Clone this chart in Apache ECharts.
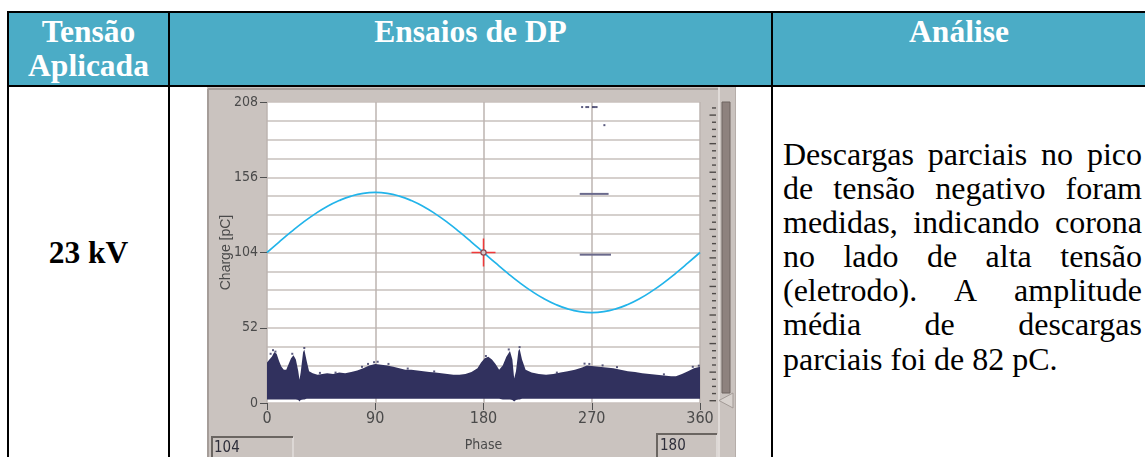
<!DOCTYPE html>
<html>
<head>
<meta charset="utf-8">
<title>Ensaios de DP</title>
<script src="https://cdn.jsdelivr.net/npm/echarts@6/dist/echarts.min.js"></script>
<style>
  html, body { margin: 0; padding: 0; background: #fff; }
  #page { position: relative; width: 1145px; height: 457px; overflow: hidden; background: #fff;
          font-family: 'Liberation Serif', 'Times New Roman', serif; }
  .hdr  { position: absolute; left: 9px; top: 13px; width: 1136px; height: 72px; background: #4bacc6; }
  .bar  { position: absolute; background: #000; }
  .th   { position: absolute; top: 14.8px; color: #fff; font-weight: bold; font-size: 31.5px;
          line-height: 34.5px; text-align: center; white-space: nowrap; }
  .kv   { position: absolute; left: 9px; width: 159px; top: 236.1px; font-weight: bold; font-size: 31.5px;
          line-height: 34.5px; text-align: center; color: #000; white-space: nowrap; }
  .txt  { position: absolute; left: 783px; top: 137px; width: 359px; font-size: 32px; line-height: 34.1px; color: #000; }
  .txt div { text-align: justify; text-align-last: justify; white-space: nowrap; }
  .txt div.last { text-align-last: left; }
  #chart { position: absolute; left: 207px; top: 87px; width: 529px; height: 370px; }
</style>
</head>
<body>
<div id="page">
  <div class="hdr"></div>
  <div class="th" style="left:9px;width:159px;">Tensão<br>Aplicada</div>
  <div class="th" style="left:170px;width:601px;">Ensaios de DP</div>
  <div class="th" style="left:773px;width:372px;">Análise</div>

  <div class="kv">23 kV</div>

  <div class="txt">
    <div>Descargas parciais no pico</div>
    <div>de tensão negativo foram</div>
    <div>medidas, indicando corona</div>
    <div>no lado de alta tensão</div>
    <div>(eletrodo). A amplitude</div>
    <div>média de descargas</div>
    <div class="last">parciais foi de 82 pC.</div>
  </div>

  <div id="chart"></div>

  <!-- table rules -->
  <div class="bar" style="left:7px;top:11px;width:1138px;height:2px;"></div>
  <div class="bar" style="left:7px;top:85px;width:1138px;height:2px;"></div>
  <div class="bar" style="left:7px;top:11px;width:2px;height:446px;"></div>
  <div class="bar" style="left:168px;top:11px;width:2px;height:446px;"></div>
  <div class="bar" style="left:771px;top:11px;width:2px;height:446px;"></div>
</div>

<script>
// Axis ticks
const phaseTicks = [0, 90, 180, 270, 360];
const chargeTicks = [0, 52, 104, 156, 208];

// Reference sine (applied voltage), charge scale
const sinePhase  = [0, 10, 20, 30, 40, 50, 60, 70, 80, 90, 100, 110, 120, 130, 140, 150, 160, 170, 180,
                    190, 200, 210, 220, 230, 240, 250, 260, 270, 280, 290, 300, 310, 320, 330, 340, 350, 360];
const sineCharge = [104, 111.2, 118.2, 124.8, 130.7, 135.8, 139.9, 143, 144.9, 145.5, 144.9, 143, 139.9,
                    135.8, 130.7, 124.8, 118.2, 111.2, 104, 96.8, 89.8, 83.2, 77.3, 72.2, 68.1, 65, 63.1,
                    62.5, 63.1, 65, 68.1, 72.2, 77.3, 83.2, 89.8, 96.8, 104];

// Partial discharge cloud: upper and lower envelope vs. phase
const pdPhase = [0, 2, 4, 6, 8, 10, 12, 14, 16, 18, 20, 22, 24, 26, 27, 28, 30, 31, 33, 35,
                 38, 42, 46, 50, 55, 60, 65, 70, 75, 80, 85, 90, 95, 100, 105, 110, 115, 120, 125, 130,
                 135, 140, 145, 150, 155, 160, 165, 170, 175, 178, 181, 184, 187, 190, 193, 196, 199, 202, 204, 205.5,
                 207, 209, 210, 212, 215, 220, 226, 232, 238, 244, 250, 256, 262, 266, 270, 276, 282, 288, 294, 300,
                 306, 312, 318, 324, 330, 336, 340, 345, 350, 355, 360];
const pdTop = [28, 30, 32, 35, 34, 29, 25, 23, 23, 27, 31, 33, 30, 22, 16, 21, 35, 37, 29, 22,
               20.5, 19.5, 20, 20.5, 20, 21, 20.5, 21.5, 22.5, 24, 26, 27, 26.5, 26, 25, 24, 23, 23, 22.5, 22,
               21.5, 21, 20.5, 20, 19.5, 19.5, 20, 21.5, 24, 28, 31, 32, 30, 27, 23, 26, 32, 36, 30, 17,
               22, 36, 37.5, 30, 23, 21, 20, 19.5, 20, 21, 22, 23, 24.5, 26, 25.5, 25, 24.5, 24, 23, 22,
               21.5, 20.5, 20, 19.5, 19, 18.5, 18.5, 20, 22, 24, 25];
const pdBottom = [2.5, 2.5, 2.5, 2.5, 2.5, 2.5, 2.5, 2.5, 2.5, 2.5, 2.5, 2.5, 2.5, 2, 1, 2, 2.5, 2.5, 3, 3,
                  3, 3, 3, 3, 3, 3, 3, 3, 3, 3, 3, 3, 3, 3, 3, 3, 3, 3, 3, 3,
                  3, 3, 3, 3, 3, 3, 3, 3, 3, 3, 3, 3, 3, 3, 3, 2.5, 2.5, 2.5, 2, 1,
                  2, 2.5, 2.5, 3, 3, 3, 3, 3, 3, 3, 3, 3, 3, 3, 3, 3, 3, 3, 3, 3,
                  3, 3, 3, 3, 3, 3, 3, 3, 3, 3, 3];
// Isolated pulses along the top of the cloud
const pdSpeck = [[3, 34], [5, 36.5], [7, 35.5], [21, 34], [31, 38], [44, 20.8], [57, 21], [79, 25], [84, 27],
                 [89, 28.2], [92, 28.5], [101, 27], [117, 23.8], [139, 21.8], [182, 32.5], [201, 37],
                 [210, 38.6], [241, 21], [264, 27.2], [268, 27], [279, 26], [291, 24.8], [330, 19.8],
                 [354, 25], [359, 25.8]];
// Sparse high pulses near the negative peak
const pdHigh = [[262, 204.5], [265.5, 204.5], [267, 204.5], [271, 204.5], [272.5, 204.5], [274, 204.5], [280.5, 192]];

// Level cursors: [phaseStart, charge, phaseEnd]
const cursorLevels = [[260, 144.5, 284], [260, 102.5, 286]];
// Phase/charge cursor
const cursorPoint = [[180, 104]];

// Readout boxes
const readoutLeft = '104';
const readoutRight = '180';

const NARROW = '"Liberation Sans Narrow", "Arial Narrow", "DejaVu Sans Condensed", sans-serif';
const PANEL = '#cac3bf';
const GRIDC = '#c8c1bd';

const chart = echarts.init(document.getElementById('chart'), null, { renderer: 'canvas' });

// Panel decoration: level scale at the right edge
const scaleTicks = [];
for (let k = 0; k < 42; k++) {
  const y = 313.7 - k * 7.14;
  const long = k % 4 === 0;
  scaleTicks.push({
    type: 'line', z: 50, silent: true,
    shape: { x1: long ? 502.5 : 505, y1: y, x2: 509, y2: y },
    style: { stroke: '#4e4a48', lineWidth: 1.4 }
  });
}

const option = {
  backgroundColor: PANEL,
  animation: false,
  grid: { left: 60, top: 15, width: 433, height: 301, show: true, backgroundColor: '#fff', borderWidth: 0,
          containLabel: false, outerBoundsMode: 'none' },
  xAxis: {
    type: 'value', min: phaseTicks[0], max: phaseTicks[phaseTicks.length - 1], interval: phaseTicks[1] - phaseTicks[0],
    axisLine: { show: false },
    axisTick: { show: true, length: 7, lineStyle: { color: '#505050', width: 1 } },
    axisLabel: { margin: 8, color: '#4a4a4a', fontFamily: NARROW, fontSize: 16 },
    splitLine: { show: true, lineStyle: { color: '#bdb4b0', width: 1.5 } },
    name: 'Phase', nameLocation: 'middle', nameGap: 35, nameMoveOverlap: false,
    nameTextStyle: { color: '#4a4a4a', fontFamily: NARROW, fontSize: 14 }
  },
  yAxis: {
    type: 'value', min: chargeTicks[0], max: chargeTicks[chargeTicks.length - 1], interval: chargeTicks[1] - chargeTicks[0],
    axisLine: { show: false },
    axisTick: { show: true, length: 7, lineStyle: { color: '#505050', width: 1 } },
    axisLabel: { margin: 9, color: '#4a4a4a', fontFamily: NARROW, fontSize: 14 },
    splitLine: { show: true, lineStyle: { color: GRIDC, width: 1.5 } },
    minorTick: { show: false, splitNumber: 4 },
    minorSplitLine: { show: true, lineStyle: { color: GRIDC, width: 1.5 } },
    name: 'Charge [pC]', nameLocation: 'middle', nameGap: 34, nameRotate: 90, nameMoveOverlap: false,
    nameTextStyle: { color: '#4a4a4a', fontFamily: '"Liberation Sans", Arial, sans-serif', fontSize: 14 }
  },
  series: [
    {
      name: 'PD cloud', type: 'custom', clip: true, z: 3,
      data: [[180, 20]],
      renderItem: function (params, api) {
        const pts = [];
        for (let i = 0; i < pdPhase.length; i++) pts.push(api.coord([pdPhase[i], pdTop[i]]));
        for (let i = pdPhase.length - 1; i >= 0; i--) pts.push(api.coord([pdPhase[i], pdBottom[i]]));
        return { type: 'polygon', shape: { points: pts }, style: { fill: '#31315e' } };
      }
    },
    {
      name: 'PD pulses', type: 'scatter', z: 3, symbol: 'rect', symbolSize: 2,
      itemStyle: { color: '#31315e' },
      data: pdSpeck.concat(pdHigh)
    },
    {
      name: 'Voltage', type: 'line', z: 4, smooth: true, symbol: 'none',
      lineStyle: { color: '#22b4ea', width: 1.7 },
      data: sinePhase.map((p, i) => [p, sineCharge[i]])
    },
    {
      name: 'Level cursors', type: 'custom', z: 5,
      data: cursorLevels,
      renderItem: function (params, api) {
        const a = api.coord([api.value(0), api.value(1)]);
        const b = api.coord([api.value(2), api.value(1)]);
        return { type: 'line', shape: { x1: a[0], y1: a[1], x2: b[0], y2: b[1] },
                 style: { stroke: '#6a6a8c', lineWidth: 2 } };
      }
    },
    {
      name: 'Cursor', type: 'custom', z: 6,
      data: cursorPoint,
      renderItem: function (params, api) {
        const c = api.coord([api.value(0), api.value(1)]);
        return {
          type: 'group',
          children: [
            { type: 'line', shape: { x1: c[0] - 12, y1: c[1], x2: c[0] + 12, y2: c[1] }, style: { stroke: '#f03a3a', lineWidth: 1.5 } },
            { type: 'line', shape: { x1: c[0], y1: c[1] - 14, x2: c[0], y2: c[1] + 14 }, style: { stroke: '#f03a3a', lineWidth: 1.5 } },
            { type: 'circle', shape: { cx: c[0], cy: c[1], r: 2.6 }, style: { fill: '#d4c6c6', stroke: '#8a4a55', lineWidth: 1.2 } }
          ]
        };
      }
    }
  ],
  graphic: [
    // panel frame
    { type: 'line', z: 40, silent: true, shape: { x1: 1, y1: 2, x2: 511, y2: 2 }, style: { stroke: '#a59d99', lineWidth: 2 } },
    { type: 'line', z: 40, silent: true, shape: { x1: 1, y1: 2, x2: 1, y2: 370 }, style: { stroke: '#a59d99', lineWidth: 2 } },
    { type: 'line', z: 40, silent: true, shape: { x1: 512, y1: 0, x2: 512, y2: 370 }, style: { stroke: '#e7e3e0', lineWidth: 1.5 } },
    { type: 'line', z: 40, silent: true, shape: { x1: 528.5, y1: 0, x2: 528.5, y2: 370 }, style: { stroke: '#b5ada9', lineWidth: 1 } },
    // level slider
    { type: 'rect', z: 40, silent: true, shape: { x: 515, y: 15, width: 8, height: 291 },
      style: { fill: '#8e827e', stroke: '#6f6561', lineWidth: 1 } },
    { type: 'polygon', z: 41, silent: true, shape: { points: [[512, 313.5], [526, 306], [526, 321]] },
      style: { fill: '#d8d2ce', stroke: '#a39b97', lineWidth: 1 } },
    // readout boxes
    { type: 'rect', z: 40, silent: true, shape: { x: 5, y: 350, width: 81, height: 30 }, style: { fill: PANEL, stroke: '#efeceb', lineWidth: 1 } },
    { type: 'polyline', z: 41, silent: true, shape: { points: [[5, 380], [5, 350], [86, 350]] }, style: { stroke: '#6a6561', lineWidth: 2, fill: null } },
    { type: 'text', z: 42, silent: true, style: { text: readoutLeft, x: 7, y: 361, verticalAlign: 'middle',
      font: '15px ' + NARROW, fill: '#2e2e3a' } },
    { type: 'rect', z: 40, silent: true, shape: { x: 450, y: 347, width: 60, height: 30 }, style: { fill: PANEL, stroke: '#efeceb', lineWidth: 1 } },
    { type: 'polyline', z: 41, silent: true, shape: { points: [[450, 377], [450, 347], [510, 347]] }, style: { stroke: '#6a6561', lineWidth: 2, fill: null } },
    { type: 'text', z: 42, silent: true, style: { text: readoutRight, x: 453, y: 359, verticalAlign: 'middle',
      font: '15px ' + NARROW, fill: '#2e2e3a' } }
  ].concat(scaleTicks)
};

chart.setOption(option);
</script>
</body>
</html>
